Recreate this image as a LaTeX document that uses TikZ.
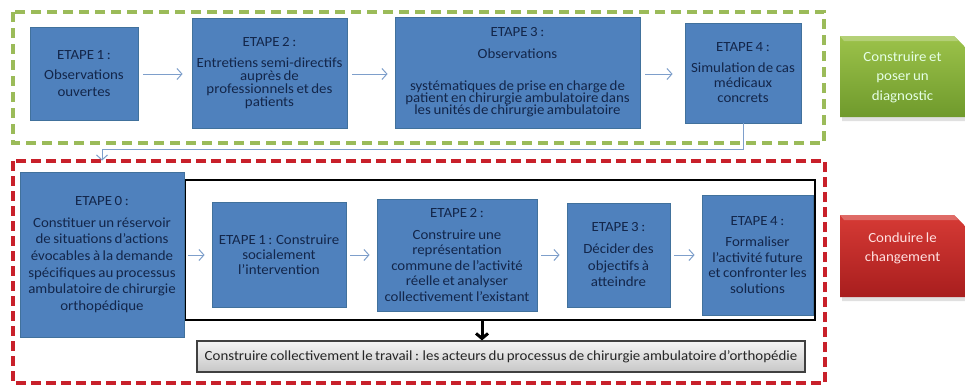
\documentclass[tikz,border=0pt]{standalone}
\usepackage{fontspec}
\setmainfont{Carlito}[FakeStretch=1.065, WordSpace=0.75]
\usetikzlibrary{arrows.meta}
\definecolor{boxblue}{HTML}{4F81BD}
\definecolor{boxedge}{HTML}{41719C}
\definecolor{navytext}{HTML}{13264A}
\definecolor{dgreen}{HTML}{9BBB59}
\definecolor{dred}{HTML}{C8202A}
\definecolor{connblue}{HTML}{7E9FCB}
\definecolor{labgreenA}{HTML}{9CC24A}
\definecolor{labgreenB}{HTML}{6F9A2C}
\definecolor{labredA}{HTML}{D63A35}
\definecolor{labredB}{HTML}{A81E1E}
\tikzset{
  stepbox/.style={draw=boxedge, fill=boxblue, line width=0.8pt, inner sep=0pt,
    align=center, text=navytext},
  fs/.style={font=\fontsize{14}{#1}\selectfont},
  conn/.style={draw=connblue, line width=1pt, -{Straight Barb[length=5pt,width=11pt]}},
  bigarrow/.style={draw=black, line width=3pt, -{Straight Barb[length=5pt,width=12pt]}},
  labtext/.style={align=center, font=\fontsize{14}{19.5}\selectfont},
}
\begin{document}
\begin{tikzpicture}[x=1pt,y=-1pt]
\useasboundingbox (0,0) rectangle (965,388);
\fill[white] (0,0) rectangle (965,388);

% dashed containers
\draw[dgreen, line width=3.8pt, dash pattern=on 10pt off 6pt] (13,12) rectangle (824,143);
\draw[dred, line width=3.5pt, dash pattern=on 10pt off 5pt] (13,161) rectangle (825,383);

% top row
\node[stepbox, fs=17, minimum width=108, minimum height=93] (t1) at (84,73.5)
  {ETAPE 1 :\\[3pt] Observations\\ ouvertes};
\node[stepbox, fs=13, minimum width=155, minimum height=110] (t2) at (269.5,73)
  {ETAPE 2 :\\[8pt] Entretiens semi-directifs\\ auprès de\\ professionnels et des\\ patients};
\node[stepbox, fs=12.2, minimum width=245, minimum height=111] (t3) at (517.5,72.5)
  {ETAPE 3 :\\[9pt] Observations\\[20pt] systématiques de prise en charge de\\ patient en chirurgie ambulatoire dans\\ les unités de chirurgie ambulatoire};
\node[stepbox, fs=15, minimum width=116, minimum height=100] (t4) at (743,73)
  {ETAPE 4 :\\[6pt] Simulation de cas\\ médicaux\\ concrets};

\draw[conn, shorten <=5pt, shorten >=9pt] (t1.east |- 0,74) -- (t2.west |- 0,74);
\draw[conn, shorten <=5pt, shorten >=7pt] (t2.east |- 0,74) -- (t3.west |- 0,74);
\draw[conn, shorten <=5pt, shorten >=12pt] (t3.east |- 0,74) -- (t4.west |- 0,74);

% labels
\fill[black, opacity=0.12] (842,40) -- (956,40) -- (965,49) -- (965,121) -- (842,121) -- cycle;
\shade[top color=labgreenA, bottom color=labgreenB] (840,36) -- (954,36) -- (965,47) -- (965,117) -- (840,117) -- cycle;
\fill[white, opacity=0.25] (840,36) -- (954,36) -- (958,41) -- (844,41) -- cycle;
\node[labtext, text=white!90!green] (lg) at (902.5,77) {Construire et\\ poser un\\ diagnostic};

\fill[black, opacity=0.12] (842,219) -- (956,219) -- (965,228) -- (965,301) -- (842,301) -- cycle;
\shade[top color=labredA, bottom color=labredB] (840,215) -- (954,215) -- (965,226) -- (965,297) -- (840,297) -- cycle;
\fill[white, opacity=0.25] (840,215) -- (954,215) -- (958,220) -- (844,220) -- cycle;
\node[labtext, text=white!88!red, font=\fontsize{14}{19}\selectfont] (lr) at (902.5,248) {Conduire le\\ changement};

% bottom
\node[draw=black, line width=2.8pt, minimum width=630, minimum height=140, inner sep=0pt] (frame) at (500,250) {};

\node[stepbox, fs=16.7, minimum width=164, minimum height=165] (b0) at (102,254.5)
  {ETAPE 0 :\\[5pt] Constituer un réservoir\\ de situations d'actions\\ évocables à la demande\\ spécifiques au processus\\ ambulatoire de chirurgie\\ orthopédique};
\node[stepbox, fs=15, minimum width=134, minimum height=105] (b1) at (279,255)
  {ETAPE 1 : Construire\\ socialement\\ l'intervention};
\node[stepbox, fs=15.5, minimum width=160, minimum height=112] (b2) at (457,255)
  {ETAPE 2 :\\[6.5pt] Construire une\\ représentation\\ commune de l'activité\\ réelle et analyser\\ collectivement l'existant};
\node[stepbox, fs=16.5, minimum width=103, minimum height=104] (b3) at (618.5,255)
  {ETAPE 3 :\\[5.5pt] Décider des\\ objectifs à\\ atteindre};
\node[stepbox, fs=15.5, minimum width=111, minimum height=120] (b4) at (757.5,255)
  {ETAPE 4 :\\[6pt] Formaliser\\ l'activité future\\ et confronter les\\ solutions};

\draw[conn, shorten <=4pt, shorten >=7pt] (b0.east |- 0,255) -- (b1.west |- 0,255);
\draw[conn, shorten <=4pt, shorten >=7pt] (b1.east |- 0,255) -- (b2.west |- 0,255);
\draw[conn, shorten <=4pt, shorten >=7pt] (b2.east |- 0,255) -- (b3.west |- 0,255);
\draw[conn, shorten <=4pt, shorten >=7pt] (b3.east |- 0,255) -- (b4.west |- 0,255);

% gray box
\node[draw=black!75, line width=1.2pt, top color=black!4, bottom color=black!22,
  minimum width=608, minimum height=31, inner sep=0pt, text=black!85,
  font=\fontsize{14}{15}\selectfont] (gb) at (501,356.5)
  {Construire collectivement le travail : les acteurs du processus de chirurgie ambulatoire d’orthopédie};

\coordinate (ax) at (482,330);
\draw[bigarrow] (ax |- frame.south) -- (ax |- gb.north);

% connector from top step 4 to step 0
\coordinate (lvl) at (0,149);
\draw[conn, shorten >=11pt] (t4.south) -- (t4.south |- lvl) -- (b0.north |- lvl) -- (b0.north);
\end{tikzpicture}
\end{document}
